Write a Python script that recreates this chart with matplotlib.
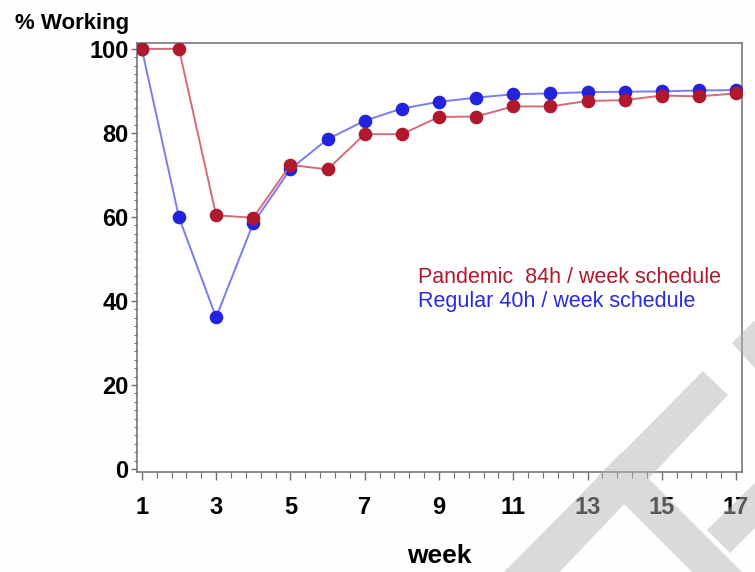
import matplotlib.pyplot as plt
from matplotlib.patches import PathPatch
from matplotlib.path import Path
from matplotlib.ticker import FixedLocator, MultipleLocator
import numpy as np

plt.rcParams['font.family'] = ['Liberation Sans', 'DejaVu Sans']

weeks = list(range(1, 18))
pandemic = [100, 100, 60.4, 59.8, 72.4, 71.3, 79.7, 79.7, 83.8, 83.9,
            86.3, 86.3, 87.6, 87.8, 88.9, 88.7, 89.4]
regular = [100, 59.9, 36.1, 58.5, 71.4, 78.5, 82.9, 85.8, 87.4, 88.4,
           89.2, 89.4, 89.7, 89.8, 89.9, 90.1, 90.2]
x_major = list(range(1, 18, 2))

W, H = 755, 572
fig = plt.figure(figsize=(W / 100, H / 100), dpi=100)
fig.patch.set_facecolor('#fefefe')
ax = fig.add_axes([137 / W, 1 - 472 / H, (742 - 137) / W, (472 - 43) / H])

ax.plot(weeks, regular, color='#7b7bf0', lw=1.4, marker='o', ms=8.8,
        mfc='#2323dd', mec='#2323dd', zorder=3)
ax.plot(weeks, pandemic, color='#d56a78', lw=1.4, marker='o', ms=8.8,
        mfc='#b0182c', mec='#b0182c', zorder=4)

ax.set_xlim(0.87, 17.16)
ax.set_ylim(-0.7, 101.4)
ax.xaxis.set_major_locator(FixedLocator(x_major))
ax.xaxis.set_minor_locator(FixedLocator(np.arange(1, 17.2, 0.4)))
ax.yaxis.set_major_locator(MultipleLocator(20))
ax.yaxis.set_minor_locator(MultipleLocator(2))

for s in ax.spines.values():
    s.set_color('#6e6e6e')
    s.set_linewidth(1.1)
ax.tick_params(axis='x', which='major', length=6, width=1, color='#6e6e6e',
               labelsize=17, pad=11)
ax.tick_params(axis='x', which='minor', length=4, width=0.8, color='#6e6e6e')
ax.tick_params(axis='y', which='major', length=4, width=1, color='#6e6e6e',
               labelsize=17, pad=2)
ax.tick_params(axis='y', which='minor', length=2.5, width=0.8, color='#6e6e6e')
for lab in ax.get_xticklabels() + ax.get_yticklabels():
    lab.set_fontweight('bold')

ax.text(8.44, 44.3, 'Pandemic  84h / week schedule', color='#b0182c',
        fontsize=15.5, va='baseline')
ax.text(8.44, 38.6, 'Regular 40h / week schedule', color='#2a2ae0',
        fontsize=15.5, va='baseline')

fig.text(15 / W, 1 - 29 / H, '% Working', fontsize=16, fontweight='bold',
         va='baseline')
fig.text(439.5 / W, 1 - 563 / H, 'week', fontsize=19, fontweight='bold',
         va='baseline', ha='center')

# grey watermark strokes in the lower right corner (pixel coords),
# one compound path so overlaps are not darkened twice
strokes = [
    [(703, 371), (728, 395), (552, 580), (496, 580)],
    [(597, 477), (622, 452), (750, 580), (700, 580)],
    [(707, 530), (730, 553), (770, 513), (770, 468)],
    [(732, 343), (760, 315), (800, 355), (770, 385)],
]
verts, codes = [], []
for pts in strokes:
    pts = [(px / W, 1 - py / H) for px, py in pts]
    area = sum(x0 * y1 - x1 * y0 for (x0, y0), (x1, y1)
               in zip(pts, pts[1:] + pts[:1]))
    if area < 0:
        pts = pts[::-1]
    verts += pts + [pts[0]]
    codes += [Path.MOVETO] + [Path.LINETO] * (len(pts) - 1) + [Path.CLOSEPOLY]
wm = PathPatch(Path(verts, codes), transform=fig.transFigure,
               facecolor='#b5b5b5', edgecolor='none', alpha=0.49, zorder=10)
fig.add_artist(wm)

fig.savefig('out.png', dpi=100)
